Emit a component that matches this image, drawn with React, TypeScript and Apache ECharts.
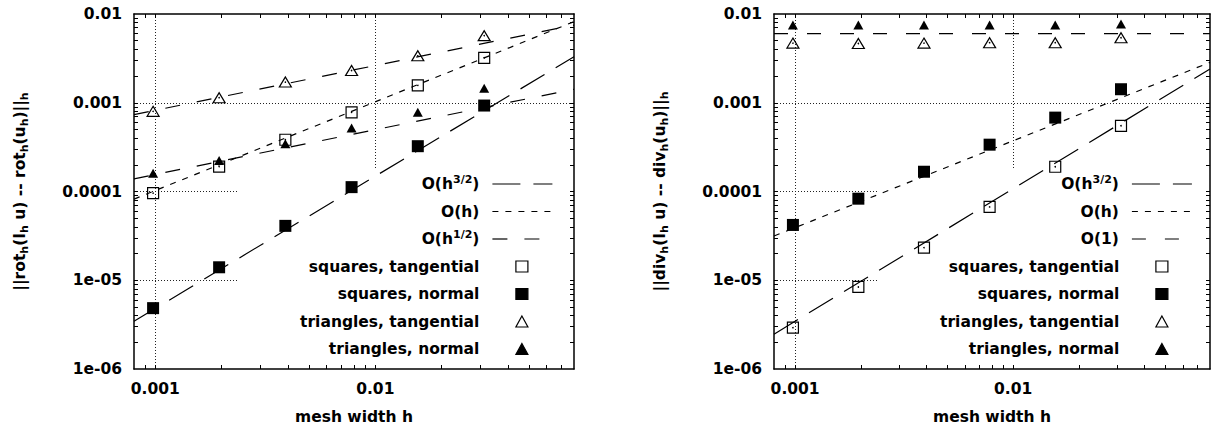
import React, { useEffect, useRef } from 'react';
import * as echarts from 'echarts';

// ---------- data ----------
const meshWidths = [0.000977, 0.00195, 0.0039, 0.0078, 0.0156, 0.03125];
const fitRange = [0.0008, 0.08];

// left panel: ||rot_h(I_h u) - rot_h(u_h)||_h
const rotSquaresTangential = [9.6e-5, 1.91e-4, 3.83e-4, 7.8e-4, 1.57e-3, 3.21e-3];
const rotSquaresNormal = [4.85e-6, 1.4e-5, 4.1e-5, 1.12e-4, 3.24e-4, 9.3e-4];
const rotTrianglesTangential = [8.0e-4, 1.14e-3, 1.71e-3, 2.31e-3, 3.38e-3, 5.7e-3];
const rotTrianglesNormal = [1.61e-4, 2.24e-4, 3.45e-4, 5.18e-4, 7.83e-4, 1.46e-3];
const rotFitH32 = [3.45e-6, 3.3e-3];
const rotFitH1 = [8.2e-5, 8.2e-3];
const rotFitHalfTangential = [7.35e-4, 7.5e-3];
const rotFitHalfNormal = [1.39e-4, 1.42e-3];

// right panel: ||div_h(I_h u) - div_h(u_h)||_h
const divSquaresTangential = [2.92e-6, 8.4e-6, 2.33e-5, 6.7e-5, 1.9e-4, 5.5e-4];
const divSquaresNormal = [4.2e-5, 8.3e-5, 1.67e-4, 3.37e-4, 6.8e-4, 1.42e-3];
const divTrianglesTangential = [4.7e-3, 4.65e-3, 4.7e-3, 4.75e-3, 4.75e-3, 5.4e-3];
const divTrianglesNormal = [7.5e-3, 7.5e-3, 7.5e-3, 7.5e-3, 7.5e-3, 7.7e-3];
const divFitH32 = [2.47e-6, 2.4e-3];
const divFitH1 = [3.15e-5, 2.85e-3];
const divFitH0 = [6.0e-3, 6.0e-3];

// ---------- axes ----------
const X_MIN = 0.0008;
const X_MAX = 0.08;
const Y_MIN = 1e-6;
const Y_MAX = 0.01;
const xLabelValues = [0.001, 0.01];
const xLabelTexts = ['0.001', '0.01'];
const yLabelValues = [1e-6, 1e-5, 1e-4, 1e-3, 1e-2];
const yLabelTexts = ['1e-06', '1e-05', '0.0001', '0.001', '0.01'];
const xTickValues = [
  0.0009, 0.001, 0.002, 0.003, 0.004, 0.005, 0.006, 0.007, 0.008, 0.009,
  0.01, 0.02, 0.03, 0.04, 0.05, 0.06, 0.07,
];
const yTickValues = [
  2e-6, 3e-6, 4e-6, 5e-6, 6e-6, 7e-6, 8e-6, 9e-6, 1e-5,
  2e-5, 3e-5, 4e-5, 5e-5, 6e-5, 7e-5, 8e-5, 9e-5, 1e-4,
  2e-4, 3e-4, 4e-4, 5e-4, 6e-4, 7e-4, 8e-4, 9e-4, 1e-3,
  2e-3, 3e-3, 4e-3, 5e-3, 6e-3, 7e-3, 8e-3, 9e-3,
];
const yGridValues = [1e-5, 1e-4, 1e-3];

const xTitle = 'mesh width h';
const yTitles = [
  '||rot{s|h}(I{s|h} u) -- rot{s|h}(u{s|h})||{s|h}',
  '||div{s|h}(I{s|h} u) -- div{s|h}(u{s|h})||{s|h}',
];

const N_H32 = 'O(h^{3/2})';
const N_H1 = 'O(h)';
const N_HALF = 'O(h^{1/2})';
const N_H0 = 'O(1)';
const N_SQT = 'squares, tangential';
const N_SQN = 'squares, normal';
const N_TRT = 'triangles, tangential';
const N_TRN = 'triangles, normal';

const FONT = 'DejaVu Sans';
const FS = 15.5;

const DASH_H32 = [28, 13];
const DASH_H1 = [6, 7];
const DASH_HALF = [15, 17];
const DASH_H0 = [14, 19];

function pick(values: number[], texts: string[], v: number): string {
  let best = 0;
  let bd = Infinity;
  values.forEach((t, i) => {
    const d = Math.abs(Math.log10(t) - Math.log10(v));
    if (d < bd) {
      bd = d;
      best = i;
    }
  });
  return texts[best];
}

const grids = [
  { left: 134, top: 14, width: 440, height: 355 },
  { left: 774, top: 14, width: 436, height: 355 },
];

const textBase = { fontFamily: FONT, fontWeight: 'bold' as const, fontSize: FS, color: '#000' };

function buildOption() {
  const frameLine = { show: true, lineStyle: { color: '#000', width: 1.5 } };
  const tickStyle = { color: '#000', width: 1 };
  const gridLine = { show: true, lineStyle: { color: '#222', width: 1, type: [1, 2] } };
  const xAxis: any[] = [];
  const yAxis: any[] = [];
  grids.forEach((_, g) => {
    const bx = { type: 'log', logBase: 10, min: X_MIN, max: X_MAX, gridIndex: g };
    const by = { type: 'log', logBase: 10, min: Y_MIN, max: Y_MAX, gridIndex: g };
    xAxis.push({
      ...bx, position: 'bottom', z: 0,
      axisLine: { show: false },
      axisTick: { show: false, customValues: xLabelValues },
      axisLabel: { show: false },
      splitLine: gridLine,
    });
    xAxis.push({
      ...bx, position: 'bottom', z: 5,
      axisLine: frameLine,
      axisTick: { show: true, inside: true, length: 4, customValues: xTickValues, lineStyle: tickStyle },
      axisLabel: {
        show: true, customValues: xLabelValues, margin: 12, ...textBase,
        formatter: (v: number) => pick(xLabelValues, xLabelTexts, v),
      },
      splitLine: { show: false },
      name: xTitle, nameLocation: 'middle', nameGap: 40,
      nameTextStyle: { ...textBase },
    });
    xAxis.push({
      ...bx, position: 'top', z: 5,
      axisLine: frameLine,
      axisTick: { show: true, inside: true, length: 4, customValues: xTickValues, lineStyle: tickStyle },
      axisLabel: { show: false },
      splitLine: { show: false },
    });

    yAxis.push({
      ...by, position: 'left', z: 0,
      axisLine: { show: false },
      axisTick: { show: false, customValues: yGridValues },
      axisLabel: { show: false },
      splitLine: gridLine,
    });
    yAxis.push({
      ...by, position: 'left', z: 5,
      axisLine: frameLine,
      axisTick: { show: true, inside: true, length: 4, customValues: yTickValues, lineStyle: tickStyle },
      axisLabel: {
        show: true, customValues: yLabelValues, margin: 12, ...textBase,
        formatter: (v: number) => pick(yLabelValues, yLabelTexts, v),
      },
      splitLine: { show: false },
      name: yTitles[g], nameLocation: 'middle', nameGap: 104, nameRotate: 90,
      nameTextStyle: {
        ...textBase, lineHeight: 20,
        rich: {
          s: { fontFamily: FONT, fontWeight: 'bold', fontSize: 11, lineHeight: 11, verticalAlign: 'bottom', color: '#000' },
        },
      },
    });
    yAxis.push({
      ...by, position: 'right', z: 5,
      axisLine: frameLine,
      axisTick: { show: true, inside: true, length: 4, customValues: yTickValues, lineStyle: tickStyle },
      axisLabel: { show: false },
      splitLine: { show: false },
    });
  });

  const fit = (name: string, g: number, ys: number[], dash: number[]) => ({
    type: 'line', name, xAxisIndex: 3 * g + 1, yAxisIndex: 3 * g + 1,
    data: fitRange.map((h, i) => [h, ys[i]]),
    symbol: 'none', silent: true, z: 3,
    lineStyle: { color: '#000', width: 1.2, type: dash, opacity: 1 },
    itemStyle: { color: 'rgba(0,0,0,0)' },
    emphasis: { disabled: true },
  });
  const marks = (name: string, g: number, ys: number[], symbol: string, size: any, filled: boolean) => ({
    type: 'scatter', name, xAxisIndex: 3 * g + 1, yAxisIndex: 3 * g + 1,
    data: meshWidths.map((h, i) => [h, ys[i]]),
    symbol, symbolSize: size, silent: true, z: 4,
    itemStyle: filled
      ? { color: '#000', borderColor: '#000', borderWidth: 0, opacity: 1 }
      : { color: 'rgba(0,0,0,0)', borderColor: '#000', borderWidth: 1.2, opacity: 1 },
    emphasis: { disabled: true },
  });
  const dots = (g: number, ys: number[]) => ({
    type: 'scatter', xAxisIndex: 3 * g + 1, yAxisIndex: 3 * g + 1,
    data: meshWidths.map((h, i) => [h, ys[i]]),
    symbol: 'circle', symbolSize: 1.6, silent: true, z: 4,
    itemStyle: { color: '#000', opacity: 1 },
    emphasis: { disabled: true },
  });

  const series = [
    fit(N_H32, 0, rotFitH32, DASH_H32),
    fit(N_H1, 0, rotFitH1, DASH_H1),
    fit(N_HALF, 0, rotFitHalfTangential, DASH_HALF),
    fit(N_HALF, 0, rotFitHalfNormal, DASH_HALF),
    marks(N_SQT, 0, rotSquaresTangential, 'rect', 11, false),
    marks(N_SQN, 0, rotSquaresNormal, 'rect', 12, true),
    marks(N_TRT, 0, rotTrianglesTangential, 'triangle', [12, 10], false),
    marks(N_TRN, 0, rotTrianglesNormal, 'triangle', [10, 9], true),
    dots(0, rotSquaresTangential),
    dots(0, rotTrianglesTangential),

    fit(N_H32, 1, divFitH32, DASH_H32),
    fit(N_H1, 1, divFitH1, DASH_H1),
    fit(N_H0, 1, divFitH0, DASH_H0),
    marks(N_SQT, 1, divSquaresTangential, 'rect', 11, false),
    marks(N_SQN, 1, divSquaresNormal, 'rect', 12, true),
    marks(N_TRT, 1, divTrianglesTangential, 'triangle', [12, 10], false),
    marks(N_TRN, 1, divTrianglesNormal, 'triangle', [10, 9], true),
    dots(1, divSquaresTangential),
    dots(1, divTrianglesTangential),
  ];

  const hiddenSym = { opacity: 0, color: 'rgba(0,0,0,0)', borderColor: 'rgba(0,0,0,0)' };
  const legendText = (padRight: number) => ({
    ...textBase, lineHeight: 20, padding: [0, padRight, 0, 0],
    rich: {
      sup: { fontFamily: FONT, fontWeight: 'bold', fontSize: 11, lineHeight: 12, verticalAlign: 'top', color: '#000' },
    },
  });
  const legendBase = {
    orient: 'vertical', align: 'right',
    itemHeight: 11, itemGap: 7.5, padding: 0,
    selectedMode: false,
    symbolKeepAspect: true,
    itemStyle: { borderWidth: 1.2 },
    lineStyle: { width: 1.2 },
    formatter: (name: string) => name.replace(/\^\{([^}]*)\}/, '{sup|$1}'),
  };
  const lineLegend = (right: number, names: string[]) => ({
    ...legendBase, right, top: 174, itemWidth: 60,
    textStyle: legendText(8),
    data: names.map((name) => ({ name, itemStyle: hiddenSym })),
  });
  const markLegend = (right: number) => ({
    ...legendBase, right, top: 256.5, itemWidth: 12,
    textStyle: legendText(31.5),
    data: [N_SQT, N_SQN, N_TRT, N_TRN],
  });
  const legend = [
    lineLegend(658, [N_H32, N_H1, N_HALF]),
    markLegend(682.5),
    lineLegend(18.5, [N_H32, N_H1, N_H0]),
    markLegend(42.5),
  ];

  const graphic = [
    { type: 'rect', z: 1, silent: true, shape: { x: 238, y: 170, width: 335, height: 198 }, style: { fill: '#fff' } },
    { type: 'rect', z: 1, silent: true, shape: { x: 877, y: 170, width: 332, height: 198 }, style: { fill: '#fff' } },
  ];

  return {
    animation: false,
    backgroundColor: '#fff',
    grid: grids,
    xAxis,
    yAxis,
    legend,
    graphic,
    series,
  };
}

export default function App() {
  const ref = useRef<HTMLDivElement>(null);
  useEffect(() => {
    if (!ref.current) return;
    const chart = echarts.init(ref.current, null, { renderer: 'svg' });
    chart.setOption(buildOption() as any);
    return () => chart.dispose();
  }, []);
  return (
    <div
      ref={ref}
      style={{ position: 'absolute', left: 0, top: 0, width: 1211, height: 430, background: '#fff' }}
    />
  );
}
